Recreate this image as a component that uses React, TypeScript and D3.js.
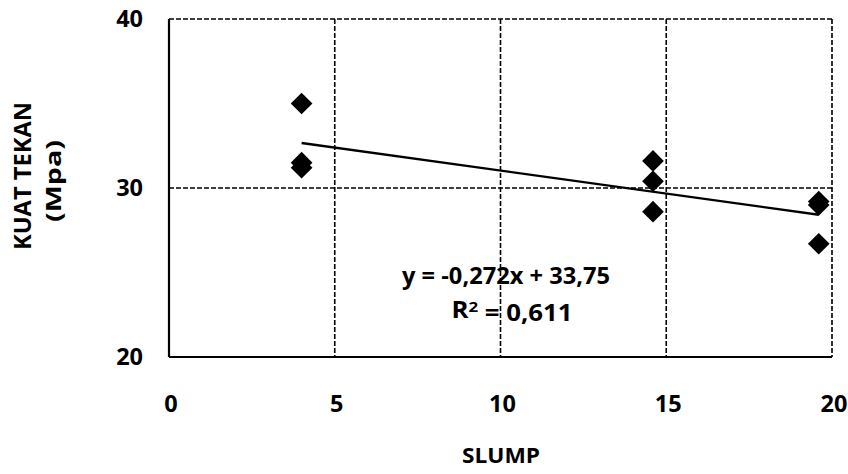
import React from "react";
import * as d3 from "d3";

const slump = [4, 4, 4, 14.6, 14.6, 14.6, 19.6, 19.6, 19.6];
const kuatTekan = [35.0, 31.2, 31.5, 31.6, 30.4, 28.6, 29.2, 29.0, 26.7];
const xTicks = [0, 5, 10, 15, 20];
const yTicks = [20, 30, 40];
const trendSlope = -0.272;
const trendIntercept = 33.75;
const trendRange = [4, 19.6];
const eqLabel = "y = -0,272x + 33,75";
const r2Label = "0,611";

const W = 848, H = 474;
const M = { left: 169, right: 832, top: 19, bottom: 357 };

export default function App() {
  const x = d3.scaleLinear().domain([0, 20]).range([M.left, M.right]);
  const y = d3.scaleLinear().domain([20, 40]).range([M.bottom, M.top]);
  const diamond = d3.symbol().type(d3.symbolSquare).size(235)();
  const font = "'Open Sans', Lato, sans-serif";
  const line = d3.line<number>().x((v) => x(v)).y((v) => y(trendSlope * v + trendIntercept));
  return (
    <svg width={W} height={H} style={{ position: "absolute", left: 0, top: 0, background: "#fff" }}>
      <rect x={0} y={0} width={W} height={H} fill="#fff" />
      {/* gridlines */}
      {xTicks.filter((t) => t > 0).map((t) => (
        <line key={"gx" + t} x1={x(t)} x2={x(t)} y1={y(40)} y2={y(20)} stroke="#000" strokeWidth={1.6} strokeDasharray="5,2" />
      ))}
      {yTicks.filter((t) => t > 20).map((t) => (
        <line key={"gy" + t} x1={x(0)} x2={x(20)} y1={y(t)} y2={y(t)} stroke="#000" strokeWidth={1.6} strokeDasharray="5,2" />
      ))}
      {/* axes */}
      <line x1={x(0)} x2={x(0)} y1={y(40)} y2={y(20)} stroke="#000" strokeWidth={2.2} />
      <line x1={x(0)} x2={x(20)} y1={y(20)} y2={y(20)} stroke="#000" strokeWidth={2.2} />
      {/* trend line */}
      <path d={line(trendRange) || ""} fill="none" stroke="#000" strokeWidth={2.4} />
      {/* points */}
      {slump.map((s, i) => (
        <path key={"p" + i} d={diamond} transform={`translate(${x(s)},${y(kuatTekan[i])}) rotate(45)`} fill="#000" />
      ))}
      {/* tick labels */}
      {yTicks.map((t) => (
        <text key={"yt" + t} x={143} y={y(t)} dy="0.36em" textAnchor="end" fontFamily={font} fontWeight={700} fontSize={23.5}>{t}</text>
      ))}
      {xTicks.map((t) => (
        <text key={"xt" + t} x={x(t) + 2} y={404} dy="0.36em" textAnchor="middle" fontFamily={font} fontWeight={700} fontSize={23.5}>{t}</text>
      ))}
      {/* axis titles */}
      <text x={501} y={455} dy="0.36em" textAnchor="middle" fontFamily={font} fontWeight={700} fontSize={21} textLength={78} lengthAdjust="spacingAndGlyphs">SLUMP</text>
      <g transform="translate(22,176) rotate(-90)">
        <text x={0} y={0} dy="0.36em" textAnchor="middle" fontFamily={font} fontWeight={700} fontSize={24} textLength={148} lengthAdjust="spacingAndGlyphs">KUAT TEKAN</text>
      </g>
      <g transform="translate(53,181) rotate(-90)">
        <text x={0} y={0} dy="0.36em" textAnchor="middle" fontFamily={font} fontWeight={700} fontSize={22} textLength={82} lengthAdjust="spacingAndGlyphs">(Mpa)</text>
      </g>
      {/* equation */}
      <text x={506} y={276} dy="0.36em" textAnchor="middle" fontFamily={font} fontWeight={700} fontSize={23} textLength={208} lengthAdjust="spacingAndGlyphs">{eqLabel}</text>
      <text x={512} y={310} dy="0.36em" textAnchor="middle" fontFamily={font} fontWeight={700} fontSize={23} textLength={121} lengthAdjust="spacingAndGlyphs">
        R<tspan dy="-0.4em" fontSize={15}>2</tspan><tspan dy="0.4em"> = {r2Label}</tspan>
      </text>
    </svg>
  );
}
